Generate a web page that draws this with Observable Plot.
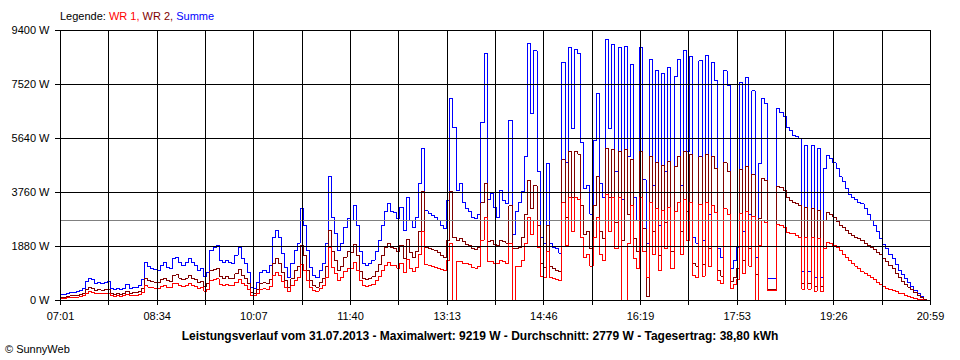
<!DOCTYPE html>
<html><head><meta charset="utf-8">
<script src="https://cdn.jsdelivr.net/npm/d3@7"></script>
<script src="https://cdn.jsdelivr.net/npm/@observablehq/plot@0.6"></script>
<style>
body{margin:0;background:#fff;}
#wrap{position:relative;width:960px;height:360px;font-family:"Liberation Sans",Arial,sans-serif;font-size:11px;color:#000;}
#legend{position:absolute;left:60px;top:9px;line-height:14px;white-space:nowrap;}
#title{position:absolute;left:0;width:960px;top:329px;line-height:15px;text-align:center;font-weight:bold;font-size:12px;white-space:nowrap;}
#copy{position:absolute;left:5px;top:342px;line-height:14px;white-space:nowrap;}
svg line, svg path{shape-rendering:crispEdges;}
</style></head><body>
<div id="wrap">
<div id="chart"></div>
<div id="legend">Legende: <span style="color:#ff0000">WR 1,</span> <span style="color:#800000">WR 2,</span> <span style="color:#0000ff">Summe</span></div>
<div id="title">Leistungsverlauf vom 31.07.2013 - Maximalwert: 9219 W - Durchschnitt: 2779 W - Tagesertrag: 38,80 kWh</div>
<div id="copy">© SunnyWeb</div>
</div>
<script>
// time axis: minutes after 07:01, one sample every 3 minutes
const stepMinutes = 3;
const spanMinutes = 838; // 07:01 .. 20:59
const tickLabels = ["07:01","08:34","10:07","11:40","13:13","14:46","16:19","17:53","19:26","20:59"];
const yTicks = [0, 1880, 3760, 5640, 7520, 9400];
const average = 2779;

const summe = [
210,210,240,280,280,310,350,420,660,765,
730,590,625,590,625,660,420,380,420,380,
420,560,420,450,450,520,730,1320,1180,1110,
1080,1040,1220,1320,1150,1110,1460,1500,1320,1220,
1320,1460,1320,1220,1040,1110,835,975,1740,1850,
1910,1390,1320,1390,1320,1290,1570,1850,1460,1290,
975,450,420,625,975,1040,975,1220,2190,2440,
2190,1630,1150,800,1290,1740,2000,3200,2600,1740,
1150,870,800,1040,1290,1980,4300,2890,2330,1740,
1980,2540,2850,2785,3300,2600,1700,1290,1220,1290,
1400,1700,2100,2600,3100,3370,3100,3060,2850,3240,
2440,3590,2785,2540,2890,4070,5300,3130,3030,2960,
2890,2785,2610,2500,3480,7030,6030,3830,4070,3400,
3200,3100,2900,2850,3000,6200,8600,3500,3720,3240,
2890,3830,3480,3370,6270,2300,3100,3400,3800,5000,
8950,6500,8700,4500,2200,1980,4760,2000,1850,1800,
1650,8300,4800,8800,6000,8750,8600,5500,3900,4000,
3000,5570,7200,4070,3600,9100,6000,8900,4500,8800,
3500,8850,5000,8200,3600,2800,8800,4200,1980,8400,
4000,8000,2600,7900,4500,8100,2800,7800,8400,4000,
8700,5200,8500,2200,2000,8350,2100,8530,3000,8300,
7660,1800,1500,8000,7500,1110,1400,1850,7590,2400,
7760,3000,7300,1500,4760,7030,6850,765,765,765,
6680,6540,6400,6020,5920,5740,5700,5640,1000,5400,
1000,5400,800,5300,800,4600,5050,4950,4800,4600,
4300,4150,3900,3700,3590,3500,3400,3370,3200,3000,
2785,2600,2400,2150,1950,1800,1600,1450,1250,1050,
900,760,620,480,360,240,130,50,0,0
];

const wr2 = [
120,120,140,160,160,180,200,250,390,450,
430,350,370,350,370,390,250,220,250,220,
250,330,250,270,270,310,430,780,700,660,
640,620,720,780,680,660,860,890,780,720,
780,860,780,720,620,660,500,580,1030,1090,
1130,820,780,820,780,760,930,1090,860,760,
580,270,250,370,580,620,580,720,1300,1450,
1300,970,680,470,760,1030,1190,1900,1550,1030,
680,520,470,620,760,1180,2450,1720,1380,1030,
1180,1510,1700,1660,1960,1550,1010,770,730,770,
830,1010,1250,1550,1850,2000,1850,1820,1700,1930,
1450,2140,1660,1510,1720,2400,3800,1860,1800,1760,
1730,1670,1550,1500,2090,3800,2200,2100,2150,2050,
1950,1900,1800,1780,1850,3400,4070,2050,2100,1950,
1900,2100,2050,2000,3300,1800,1800,1850,2200,3000,
4170,3200,4000,2600,1300,1150,2600,1200,1100,1050,
1000,4900,2900,5200,3600,5200,5100,3300,2300,2400,
1800,3300,4300,2400,2150,5300,3600,5250,2700,5200,
2100,5250,3000,4900,2150,1700,5200,2500,150,5000,
2400,4800,1550,4700,2700,4850,1700,4650,5000,2400,
5200,3100,5100,1300,1200,5000,1250,5100,1800,5000,
4600,1050,850,4800,4500,650,800,1100,4550,1400,
4650,1800,4380,900,2860,4250,4180,400,400,400,
3970,3930,3830,3590,3480,3410,3380,3310,600,3240,
600,3200,480,3150,480,2800,3060,3000,2900,2760,
2600,2540,2430,2330,2250,2190,2150,2090,2000,1920,
1850,1760,1680,1600,1470,1370,1220,1110,950,790,
670,570,470,370,280,190,100,40,0,0
];

const wr1 = [
80,80,90,110,110,120,140,160,250,300,
290,230,250,230,250,260,170,150,170,150,
170,220,170,180,180,210,290,520,470,440,
430,410,480,520,450,440,580,600,520,480,
520,580,520,480,410,440,330,390,690,730,
750,550,520,550,520,510,620,730,580,510,
390,180,170,250,390,410,390,480,870,970,
870,650,460,320,510,690,790,1270,1030,690,
460,350,320,410,510,790,1850,1150,930,690,
790,1010,1130,1110,1310,1030,680,510,490,510,
560,680,840,1030,1230,1340,1230,1220,1130,1290,
970,1430,1110,1010,1150,1600,2400,1250,1210,1180,
1160,1110,1080,1050,1390,2000,0,1350,1350,1300,
1300,1250,1150,1130,1200,2100,2890,1350,1350,1300,
1300,1400,1350,1300,2000,0,1200,1200,1400,2000,
2890,2300,2800,1850,850,800,1700,800,750,720,
680,3400,1900,3600,2400,3600,3500,2200,1500,1600,
1200,2200,2900,1600,1400,3700,2400,3600,1800,3600,
0,0,2000,3300,1450,1100,3600,1700,800,3400,
1600,3200,1050,3150,1800,3250,1100,3100,3400,1600,
3500,2100,3400,880,800,3350,850,3400,1200,3300,
3060,700,600,3200,3000,420,560,740,3040,950,
3100,1200,2920,0,1900,2780,2710,360,360,360,
2650,2610,2540,2370,2330,2330,2260,2190,400,2200,
400,2200,330,2150,330,1800,2020,1980,1920,1850,
1740,1600,1500,1380,1300,1200,1100,1000,940,870,
800,720,620,540,480,430,380,340,300,260,
230,190,150,110,80,50,30,10,0,0
];

const toRows = (arr) => arr.map((v, i) => ({t: i * stepMinutes, v}));
const gridPositions = d3.range(19).map(k => k * spanMinutes / 18);
const labelFor = d => {
  const k = Math.round(d / (spanMinutes / 18));
  return k % 2 ? "" : tickLabels[k / 2];
};

const chart = Plot.plot({
  width: 960,
  height: 360,
  marginLeft: 60,
  marginRight: 30,
  marginTop: 30,
  marginBottom: 60,
  style: {fontFamily: "'Liberation Sans', Arial, sans-serif", fontSize: "11px", background: "#fff", color: "#000"},
  x: {domain: [0, spanMinutes], label: null},
  y: {domain: [0, 9400], label: null},
  marks: [
    Plot.line(toRows(summe), {x: "t", y: "v", stroke: "#0000ff", strokeWidth: 1, curve: "step-after"}),
    Plot.line(toRows(wr2), {x: "t", y: "v", stroke: "#800000", strokeWidth: 1, curve: "step-after"}),
    Plot.line(toRows(wr1), {x: "t", y: "v", stroke: "#ff0000", strokeWidth: 1, curve: "step-after"}),
    Plot.ruleY([average], {stroke: "#808080", strokeWidth: 1}),
    Plot.gridX(gridPositions, {stroke: "#000", strokeOpacity: 1, strokeWidth: 1}),
    Plot.gridY(yTicks, {stroke: "#000", strokeOpacity: 1, strokeWidth: 1}),
    Plot.axisX({ticks: gridPositions, tickSize: 5, tickPadding: 7, tickFormat: labelFor, label: null, stroke: "#000", fill: "#000"}),
    Plot.axisY({ticks: yTicks, tickSize: 5, tickPadding: 6, tickFormat: d => `${d} W`, label: null, stroke: "#000", fill: "#000"})
  ]
});
document.getElementById("chart").appendChild(chart);
</script>
</body></html>
